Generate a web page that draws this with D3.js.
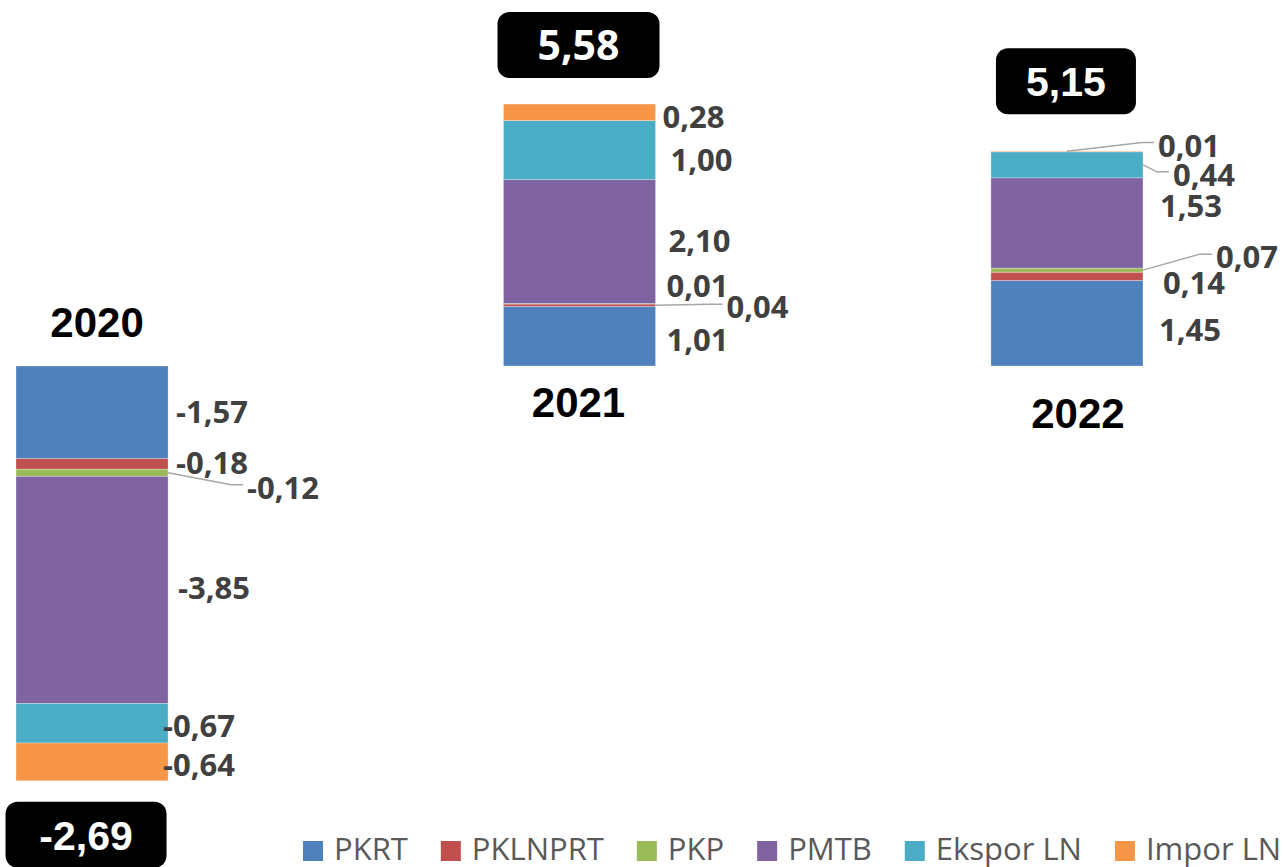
<!DOCTYPE html>
<html>
<head>
<meta charset="utf-8">
<script src="https://cdn.jsdelivr.net/npm/d3@7"></script>
<style>
  body { margin: 0; background: #fff; }
  svg { display: block; }
</style>
</head>
<body>
<svg id="chart" width="1283" height="867"></svg>
<script>
// Data
const years = ["2020", "2021", "2022"];
const seriesNames = ["PKRT", "PKLNPRT", "PKP", "PMTB", "Ekspor LN", "Impor LN"];
const seriesColors = ["#4F81BD", "#C0504D", "#9BBB59", "#8064A2", "#4BACC6", "#F79646"];

const pkrt = [-1.57, 1.01, 1.45];
const pklnprt = [-0.18, 0.04, 0.14];
const pkp = [-0.12, 0.01, 0.07];
const pmtb = [-3.85, 2.10, 1.53];
const ekspor = [-0.67, 1.00, 0.44];
const impor = [-0.64, 0.28, 0.01];
const totals = [-2.69, 5.58, 5.15];

// label nudges (dx from bar right edge, dy from segment middle), 3rd item = draw leader line
const labelNudge = {
  "2020|PKRT": [8, 0], "2020|PKLNPRT": [8, -1], "2020|PKP": [79, 15, "edge"],
  "2020|PMTB": [10, -2], "2020|Ekspor LN": [-5, 3], "2020|Impor LN": [-5, 3],
  "2021|PKRT": [11, 4], "2021|PKLNPRT": [71, 2, "edge"], "2021|PKP": [11, -18],
  "2021|PMTB": [13, -1], "2021|Ekspor LN": [15, 10], "2021|Impor LN": [7, 5],
  "2022|PKRT": [16, 7], "2022|PKLNPRT": [20, 7], "2022|PKP": [73, -13, "edge"],
  "2022|PMTB": [17, -17], "2022|Ekspor LN": [30, 10, "edge"], "2022|Impor LN": [15, -6, "mid"]
};

const rows = years.map((y, i) => ({
  year: y,
  "PKRT": pkrt[i], "PKLNPRT": pklnprt[i], "PKP": pkp[i],
  "PMTB": pmtb[i], "Ekspor LN": ekspor[i], "Impor LN": impor[i]
}));

const fmt = d3.formatLocale({ decimal: ",", thousands: ".", grouping: [3], currency: ["", ""], minus: "-" }).format(".2f");

const svg = d3.select("#chart");

const x = d3.scaleBand().domain(years).range([16, 1143]).paddingInner(0.688).paddingOuter(0);
const y = d3.scaleLinear().domain([-7, 6]).range([779, 12]);
const color = d3.scaleOrdinal().domain(seriesNames).range(seriesColors);

const stacked = d3.stack().keys(seriesNames).offset(d3.stackOffsetDiverging)(rows);

// bars
const layers = svg.selectAll(".layer")
  .data(stacked)
  .enter()
  .append("g")
  .attr("class", "layer")
  .attr("fill", (d) => color(d.key));

layers.selectAll("rect")
  .data((d) => d)
  .enter()
  .append("rect")
  .attr("x", (d) => x(d.data.year))
  .attr("width", x.bandwidth())
  .attr("y", (d) => y(Math.max(d[0], d[1])))
  .attr("height", (d) => Math.abs(y(d[0]) - y(d[1])))
  .attr("stroke", "#ffffff")
  .attr("stroke-opacity", 0.35)
  .attr("stroke-width", 0.8);

// value labels
const labelG = svg.append("g");
stacked.forEach((layer) => {
  layer.forEach((d) => {
    const yr = d.data.year;
    const nudge = labelNudge[yr + "|" + layer.key] || [8, 0];
    const right = x(yr) + x.bandwidth();
    const mid = (y(d[0]) + y(d[1])) / 2;
    const lx = right + nudge[0];
    const ly = mid + nudge[1];

    if (nudge[2]) {
      const sx = nudge[2] === "mid" ? x(yr) + x.bandwidth() / 2 : right;
      const sy = nudge[2] === "mid" ? Math.min(y(d[0]), y(d[1])) : mid;
      labelG.append("path")
        .attr("d", `M ${sx} ${sy} L ${lx - 16} ${ly - 3} H ${lx - 4}`)
        .attr("fill", "none")
        .attr("stroke", "#A6A6A6")
        .attr("stroke-width", 1.5);
    }

    labelG.append("text")
      .attr("x", lx)
      .attr("y", ly)
      .attr("dy", "0.36em")
      .attr("font-family", "'Open Sans', sans-serif")
      .attr("font-weight", "bold")
      .attr("font-size", 31)
      .attr("fill", "#404040")
      .text(fmt(d.data[layer.key]));
  });
});

// year labels
const yearNudge = [[5, -44], [-1, 36], [11, 47]];
svg.selectAll(".year")
  .data(years)
  .enter()
  .append("text")
  .attr("class", "year")
  .attr("x", (d, i) => x(d) + x.bandwidth() / 2 + yearNudge[i][0])
  .attr("y", (d, i) => y(0) + yearNudge[i][1])
  .attr("dy", "0.36em")
  .attr("text-anchor", "middle")
  .attr("font-family", "'Liberation Sans', Arial, sans-serif")
  .attr("font-weight", "bold")
  .attr("font-size", 42)
  .attr("fill", "#000")
  .text((d) => d);

// total boxes
const boxGap = [21, 26, 37];
const boxDx = [-6, -1, -1];
const boxFont = ["'Liberation Sans', Arial, sans-serif", "'Open Sans', sans-serif", "'Liberation Sans', Arial, sans-serif"];
const boxW = [161, 162, 140];
const boxH = 66;

years.forEach((yr, i) => {
  const col = rows[i];
  let top = 0, bottom = 0;
  seriesNames.forEach((k) => { if (col[k] > 0) top += col[k]; else bottom += col[k]; });
  const cx = x(yr) + x.bandwidth() / 2 + boxDx[i];
  const by = totals[i] >= 0 ? y(top) - boxGap[i] - boxH : y(bottom) + boxGap[i];
  const g = svg.append("g");
  g.append("rect")
    .attr("x", cx - boxW[i] / 2)
    .attr("y", by)
    .attr("width", boxW[i])
    .attr("height", boxH)
    .attr("rx", 12)
    .attr("fill", "#000");
  g.append("text")
    .attr("x", cx)
    .attr("y", by + boxH / 2)
    .attr("dy", "0.36em")
    .attr("text-anchor", "middle")
    .attr("font-family", boxFont[i])
    .attr("font-weight", "bold")
    .attr("font-size", 41)
    .attr("fill", "#fff")
    .text(fmt(totals[i]));
});

// legend
const legend = svg.append("g").attr("transform", "translate(303, 0)");
let lx = 0;
seriesNames.forEach((name) => {
  legend.append("rect")
    .attr("x", lx)
    .attr("y", 841)
    .attr("width", 20)
    .attr("height", 20)
    .attr("fill", color(name));
  const t = legend.append("text")
    .attr("x", lx + 31)
    .attr("y", 860)
    .attr("font-family", "'Open Sans', sans-serif")
    .attr("font-size", 31)
    .attr("fill", "#595959")
    .text(name);
  lx += 31 + t.node().getComputedTextLength() + 33;
});
</script>
</body>
</html>
